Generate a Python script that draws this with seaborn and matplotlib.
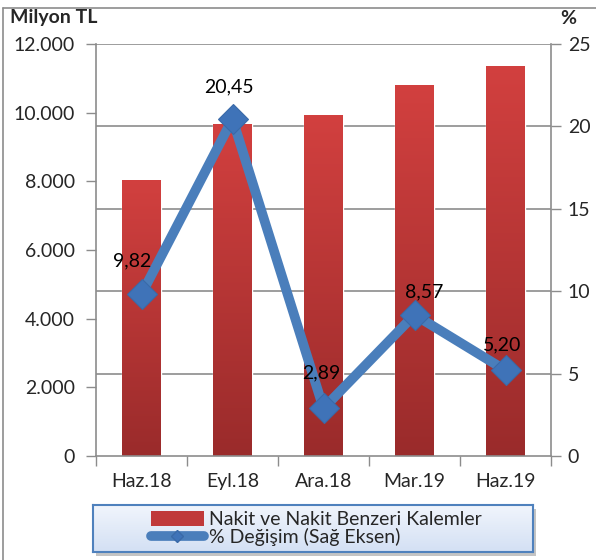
import matplotlib
matplotlib.use("Agg")
import matplotlib.pyplot as plt
import matplotlib.patches as mpatches
from matplotlib.lines import Line2D
from matplotlib.colors import LinearSegmentedColormap
import numpy as np
import pandas as pd
import seaborn as sns

# Chart data
PERIODS = ["Haz.18", "Eyl.18", "Ara.18", "Mar.19", "Haz.19"]
CASH_ITEMS = [8050, 9680, 9930, 10810, 11360]
PCT_CHANGE = [9.82, 20.45, 2.89, 8.57, 5.20]
PCT_LABELS = ["9,82", "20,45", "2,89", "8,57", "5,20"]
LEFT_TICKS = [0, 2000, 4000, 6000, 8000, 10000, 12000]
LEFT_TICK_LABELS = ["0", "2.000", "4.000", "6.000", "8.000", "10.000", "12.000"]
RIGHT_TICKS = [0, 5, 10, 15, 20, 25]
LABEL_OFFSETS = [(-9, 33), (-4, 32), (-2, 35), (10, 23), (-3, 25)]

BAR_NAME = "Nakit ve Nakit Benzeri Kalemler"
LINE_NAME = "% Değişim (Sağ Eksen)"

sns.set_theme(style="white")
plt.rcParams["font.family"] = ["Lato", "DejaVu Sans"]

GRAY = "#8c8c8c"
LINE_BLUE = "#4a7ebb"
FS = 14

df = pd.DataFrame({"period": PERIODS, "cash": CASH_ITEMS, "pct": PCT_CHANGE})

fig = plt.figure(figsize=(5.96, 5.6), dpi=100)
W, H = 596, 560


def fig_box(x0, y0, x1, y1):
    return [x0 / W, 1 - y1 / H, (x1 - x0) / W, (y1 - y0) / H]


# outer chart frame (right and bottom sides are cut off)
fig.add_artist(Line2D([3 / W, 3 / W], [0, 1 - 8 / H], color=GRAY, lw=1.2))
fig.add_artist(Line2D([3 / W, 1], [1 - 8 / H, 1 - 8 / H], color=GRAY, lw=1.2))

ax = fig.add_axes(fig_box(96, 44, 551, 456))
sns.barplot(data=df, x="period", y="cash", ax=ax, width=0.42,
            color="#c0393a", saturation=1, zorder=2)

# vertical red gradient on each bar
red_cmap = LinearSegmentedColormap.from_list("bar", ["#9a2b2b", "#d2403f"])
grad = np.linspace(0, 1, 256).reshape(-1, 1)
for patch in ax.patches:
    x0, y0 = patch.get_x(), patch.get_y()
    w, h = patch.get_width(), patch.get_height()
    im = ax.imshow(grad, cmap=red_cmap, origin="lower", aspect="auto",
                   extent=(x0, x0 + w, y0, y0 + h), zorder=2.1)
    im.set_clip_path(patch)
ax.set_xlim(-0.5, 4.5)
ax.set_ylim(0, 12000)

ax.set_xlabel("")
ax.set_ylabel("")
ax.set_yticks(LEFT_TICKS)
ax.set_yticklabels(LEFT_TICK_LABELS, fontsize=FS)
ax.tick_params(axis="y", direction="out", length=7, width=1, color=GRAY,
               pad=8, left=True)
ax.set_xticks(range(len(PERIODS)))
ax.set_xticklabels(PERIODS, fontsize=FS)
ax.tick_params(axis="x", which="major", length=0, pad=12)
ax.set_xticks(np.arange(-0.5, 5, 1), minor=True)
ax.tick_params(axis="x", which="minor", direction="out", length=7, width=1,
               color=GRAY, bottom=True)
for side in ["left", "right", "bottom"]:
    ax.spines[side].set_color(GRAY)
    ax.spines[side].set_linewidth(1.2)
ax.spines["top"].set_visible(False)

ax2 = ax.twinx()
ax2.set_ylim(0, 25)
ax2.set_yticks(RIGHT_TICKS)
ax2.set_yticklabels([str(t) for t in RIGHT_TICKS], fontsize=FS)
ax2.tick_params(axis="y", direction="out", length=7, width=1, color=GRAY,
                pad=5, right=True)
for t in RIGHT_TICKS[1:]:
    ax.axhline(t / 25 * 12000, color=GRAY, lw=1.2, zorder=1)
for side in ["left", "right", "bottom", "top"]:
    ax2.spines[side].set_visible(False)

sns.lineplot(x=np.arange(len(PERIODS)), y=df["pct"].values, ax=ax2,
             color=LINE_BLUE, lw=7, marker="D", markersize=15,
             markerfacecolor="#3f73b8", markeredgecolor="#3a6aa8",
             markeredgewidth=0.8, legend=False, zorder=3)
ax2.set_xlim(-0.5, 4.5)

for i, (val, lab) in enumerate(zip(PCT_CHANGE, PCT_LABELS)):
    ax2.annotate(lab, (i, val), xytext=LABEL_OFFSETS[i],
                 textcoords="offset pixels", ha="center", va="center",
                 fontsize=FS, color="black")

fig.text(10 / W, 1 - 18 / H, "Milyon TL", fontsize=FS, fontweight="bold",
         ha="left", va="center")
fig.text(568 / W, 1 - 19 / H, "%", fontsize=FS, fontweight="bold",
         ha="center", va="center")

# legend box with light blue gradient and drop shadow
shadow = mpatches.Rectangle(((93 + 3) / W, 1 - (552 + 4) / H), 440 / W, 47 / H,
                            transform=fig.transFigure, facecolor="#c4c4c4",
                            edgecolor="none", zorder=-1)
fig.add_artist(shadow)
lax = fig.add_axes(fig_box(93, 505, 533, 552))
lax.set_zorder(1)
blue_cmap = LinearSegmentedColormap.from_list("leg", ["#d3e0f4", "#f1f5fc"])
lax.imshow(grad, cmap=blue_cmap, origin="lower", aspect="auto",
           extent=(0, 1, 0, 1))
lax.set_xlim(0, 1)
lax.set_ylim(0, 1)
lax.set_xticks([])
lax.set_yticks([])
for s in lax.spines.values():
    s.set_color("#4f81bd")
    s.set_linewidth(1.5)

handles = [
    mpatches.Patch(facecolor="#c0393a", edgecolor="none", label=BAR_NAME),
    Line2D([0], [0], color=LINE_BLUE, lw=7, marker="D", markersize=6,
           markerfacecolor="#3f73b8", markeredgecolor="#3a6aa8",
           label=LINE_NAME),
]
lax.legend(handles=handles, loc="center left", bbox_to_anchor=(0.11, 0.5),
           frameon=False, fontsize=FS, handlelength=2.7, handleheight=0.85,
           handletextpad=0.3, labelspacing=0.0, borderpad=0)

fig.savefig("out.png", dpi=100)
